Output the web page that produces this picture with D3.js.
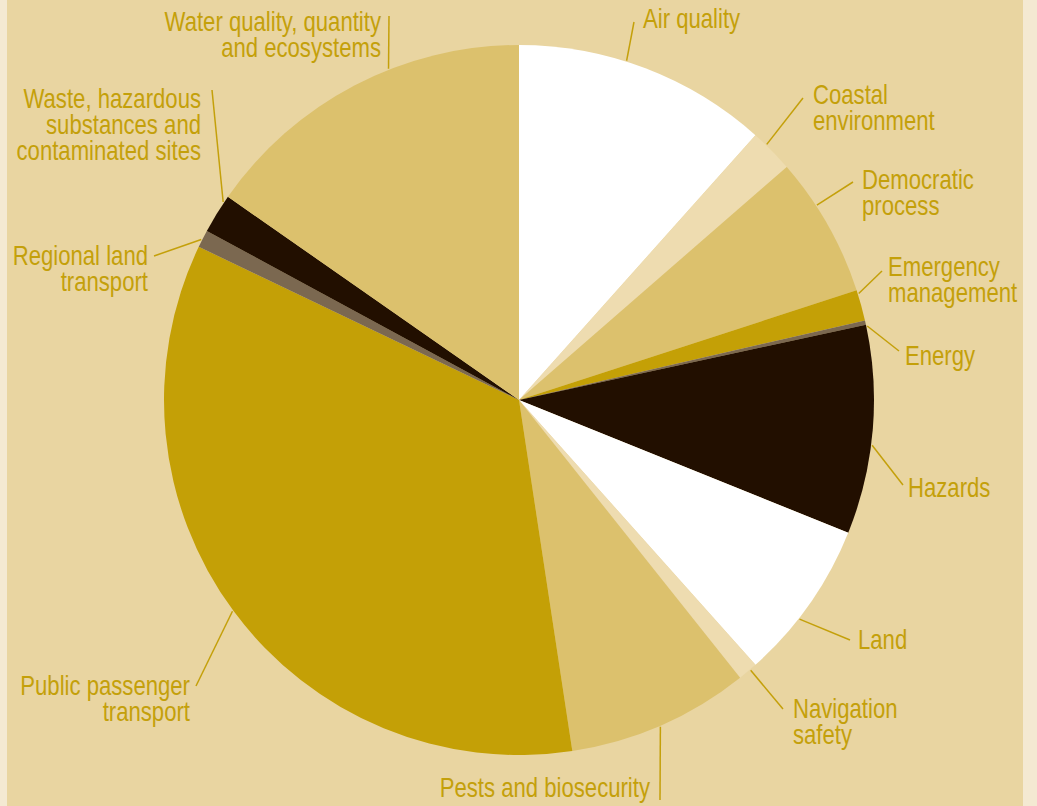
<!DOCTYPE html>
<html>
<head>
<meta charset="utf-8">
<script src="https://cdn.jsdelivr.net/npm/d3@7"></script>
<style>
  html, body { margin: 0; padding: 0; background: #f4e9d2; }
  svg { display: block; }
</style>
</head>
<body>
<svg></svg>
<script>
const width = 1037,
    height = 806;

// data: share of spend per activity (percent), clockwise from 12 o'clock
const categories = [
    "Air quality", "Coastal environment", "Democratic process", "Emergency management",
    "Energy", "Hazards", "Land", "Navigation safety", "Pests and biosecurity",
    "Public passenger transport", "Regional land transport",
    "Waste, hazardous substances and contaminated sites",
    "Water quality, quantity and ecosystems"
];
const values = [11.6, 2.0, 6.4, 1.4, 0.2, 9.5, 7.3, 0.9, 8.3, 34.5, 0.8, 1.8, 15.3];
const labelLines = [
    ["Air quality"],
    ["Coastal", "environment"],
    ["Democratic", "process"],
    ["Emergency", "management"],
    ["Energy"],
    ["Hazards"],
    ["Land"],
    ["Navigation", "safety"],
    ["Pests and biosecurity"],
    ["Public passenger", "transport"],
    ["Regional land", "transport"],
    ["Waste, hazardous", "substances and", "contaminated sites"],
    ["Water quality, quantity", "and ecosystems"]
];

const colors = d3.scaleOrdinal()
    .domain(categories)
    .range(["#ffffff", "#eedcb0", "#dcc16d", "#c4a006", "#7b6850", "#220f00",
            "#ffffff", "#eedcb0", "#dcc16d", "#c4a006", "#7b6850", "#220f00", "#dcc16d"]);

// label placement: leader angle on the rim (deg), leader end, text anchor point
const labelLayout = [
    {ang: 17.6, ex: 634, ey: 22, tx: 643, ty: 28, anchor: "start"},
    {ang: 44.1, ex: 803, ey: 98, tx: 813, ty: 104, anchor: "start"},
    {ang: 56.8, ex: 853, ey: 182, tx: 862, ty: 189, anchor: "start"},
    {ang: 72.6, ex: 882, ey: 271, tx: 888, ty: 276, anchor: "start"},
    {ang: 78.0, ex: 899, ey: 351, tx: 905, ty: 365, anchor: "start"},
    {ang: 97.3, ex: 903, ey: 485, tx: 908, ty: 497, anchor: "start"},
    {ang: 128, ex: 850, ey: 640, tx: 858, ty: 649, anchor: "start"},
    {ang: 139.4, ex: 783, ey: 709, tx: 793, ty: 718, anchor: "start"},
    {ang: 156.6, ex: 660, ey: 800, tx: 650, ty: 797, anchor: "end"},
    {ang: 233.6, ex: 196, ey: 686, tx: 190, ty: 695, anchor: "end"},
    {ang: 296.8, ex: 154, ey: 256, tx: 148, ty: 265, anchor: "end"},
    {ang: 303.8, ex: 212, ey: 90, tx: 201, ty: 108, anchor: "end"},
    {ang: 338.5, ex: 389, ey: 16, tx: 381, ty: 31, anchor: "end"}
];

const cx = 519, cy = 400, radius = 355;
const textColor = "#c4a00a",
    lineHeight = 26,
    narrow = 0.82; // squeeze Liberation Sans to a condensed face

const svg = d3.select("svg").attr("width", width).attr("height", height);

// panel background with light strips at both sides
svg.append("rect")
    .attr("x", 7).attr("y", 0)
    .attr("width", 1016).attr("height", height)
    .attr("fill", "#e9d5a1");

const chart = svg.append("g").attr("transform", `translate(${cx},${cy})`);

const pie = d3.pie().sort(null).value(d => d.value);
const arc = d3.arc().innerRadius(0).outerRadius(radius);

const data = categories.map((c, i) => ({name: c, value: values[i], lines: labelLines[i], layout: labelLayout[i]}));

chart.selectAll("path.slice")
    .data(pie(data))
    .enter()
    .append("path")
    .classed("slice", true)
    .attr("d", arc)
    .attr("fill", d => colors(d.data.name));

// leader lines
const rad = a => a * Math.PI / 180;
svg.selectAll("line.leader")
    .data(data)
    .enter()
    .append("line")
    .classed("leader", true)
    .attr("x1", d => cx + (radius + 1) * Math.sin(rad(d.layout.ang)))
    .attr("y1", d => cy - (radius + 1) * Math.cos(rad(d.layout.ang)))
    .attr("x2", d => d.layout.ex)
    .attr("y2", d => d.layout.ey)
    .attr("stroke", textColor)
    .attr("stroke-width", 1.5);

// labels
const labels = svg.selectAll("text.label")
    .data(data)
    .enter()
    .append("text")
    .classed("label", true)
    .attr("transform", d => `translate(${d.layout.tx},${d.layout.ty}) scale(${narrow},1)`)
    .attr("text-anchor", d => d.layout.anchor)
    .attr("font-family", "'Liberation Sans', Arial, sans-serif")
    .attr("font-size", 27)
    .attr("fill", textColor);

labels.each(function (d) {
    const t = d3.select(this);
    d.lines.forEach((line, i) => {
        t.append("tspan")
            .attr("x", 0)
            .attr("y", i * lineHeight)
            .text(line);
    });
});
</script>
</body>
</html>
